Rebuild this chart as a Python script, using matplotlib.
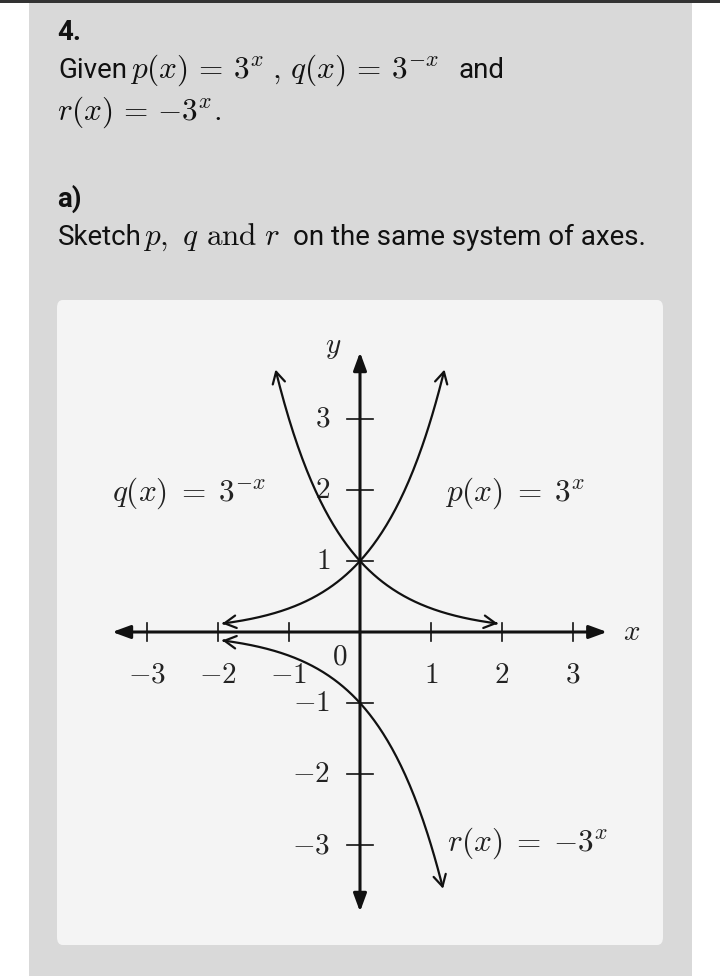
import numpy as np
import matplotlib
matplotlib.use("Agg")
import matplotlib.pyplot as plt
from matplotlib.patches import FancyBboxPatch, Rectangle, FancyArrowPatch
from matplotlib.path import Path

plt.rcParams['font.family'] = ['Roboto', 'DejaVu Sans']
plt.rcParams['mathtext.fontset'] = 'cm'

# ---- data ----
x_ticks = [-3, -2, -1, 1, 2, 3]
x_tick_labels = ['$-3$', '$-2$', '$-1$', '$1$', '$2$', '$3$']
y_ticks = [3, 2, 1, -1, -2, -3]
y_tick_labels = ['$3$', '$2$', '$1$', '$-1$', '$-2$', '$-3$']
p_range = [-1.94, 1.19]   # p(x) = 3^x
q_range = [-1.19, 1.94]   # q(x) = 3^-x
r_range = [-1.94, 1.17]   # r(x) = -3^x
x_axis_range = [-3.49, 3.48]
y_axis_range = [-3.94, 3.94]

W, H = 720, 976
fig = plt.figure(figsize=(W / 100, H / 100), dpi=100)
fig.patch.set_facecolor('white')

def fx(px):
    return px / W

def fy(py):
    return 1 - py / H

# gray panel
fig.patches.append(Rectangle((fx(29), 0), fx(692) - fx(29), fy(3), transform=fig.transFigure,
                             facecolor='#d9d9d9', edgecolor='none', zorder=-3))
# top dark line
fig.patches.append(Rectangle((0, fy(3)), 1, fy(0) - fy(3), transform=fig.transFigure,
                             facecolor='#333333', edgecolor='none', zorder=-3))
# card
fig.patches.append(FancyBboxPatch((fx(57), fy(945)), fx(663) - fx(57), fy(300) - fy(945),
                                  boxstyle='round,pad=0,rounding_size=0.008',
                                  transform=fig.transFigure, facecolor='#f4f4f4',
                                  edgecolor='none', zorder=-2))

tc = '#111111'
tfs = 20
mfs = 22.5

def seg(px, py, s, size=tfs, weight='normal'):
    fig.text(fx(px), fy(py), s, fontsize=size, fontweight=weight, color=tc,
             ha='left', va='baseline')

seg(57, 40, '4.', weight='bold')
seg(58, 78, 'Given')
seg(130, 78, r'$p(x)\,=\,3^x$', mfs)
seg(272, 78, r'$,\,q(x)\,=\,3^{-x}$', mfs)
seg(458, 78, 'and')
seg(57, 120, r'$r(x)\,=\,{-}3^x.$', mfs)
seg(57, 207, 'a)', weight='bold')
seg(58, 245, 'Sketch')
seg(143, 245, r'$p,$', mfs)
seg(182, 245, r'$q$', mfs)
seg(206, 245, r'$\mathrm{and}$', mfs)
seg(264, 245, r'$r$', mfs)
seg(293, 245, 'on the same system of axes.')

# axes mapped: origin at pixel (360, 632), 71 px per unit
u = 71.0
ox, oy = 360, 632
left, right, top, bottom = 57, 663, 300, 945
ax = fig.add_axes([fx(left), fy(bottom), fx(right) - fx(left), fy(top) - fy(bottom)])
ax.set_xlim((left - ox) / u, (right - ox) / u)
ax.set_ylim((oy - bottom) / u, (oy - top) / u)
ax.axis('off')
ax.patch.set_alpha(0)

lc = '#111111'
ast = '<|-|>,head_length=0.6,head_width=0.22'
ax.add_patch(FancyArrowPatch((x_axis_range[0], 0), (x_axis_range[1], 0), arrowstyle=ast,
                             mutation_scale=18, lw=2.2, color=lc, shrinkA=0, shrinkB=0, zorder=3))
ax.add_patch(FancyArrowPatch((0, y_axis_range[0]), (0, y_axis_range[1]), arrowstyle=ast,
                             mutation_scale=18, lw=2.2, color=lc, shrinkA=0, shrinkB=0, zorder=3))

# ticks
for t in x_ticks:
    ax.plot([t, t], [-0.13, 0.13], color=lc, lw=1.2, zorder=3)
for t in y_ticks:
    ax.plot([-0.18, 0.18], [t, t], color=lc, lw=1.2, zorder=3)

fs = 21
lfs = 22.5
gc = '#222222'
for t, lab in zip(x_ticks, x_tick_labels):
    ax.text(t, -0.6, lab, fontsize=fs, ha='center', va='center', color=gc, zorder=4)
for t, lab in zip(y_ticks, y_tick_labels):
    ax.text(-0.42, t, lab, fontsize=fs, ha='right', va='center', color=gc, zorder=4)
ax.text(-0.28, -0.35, '$0$', fontsize=fs, ha='center', va='center', color=gc)
ax.text(3.83, 0.0, '$x$', fontsize=fs, ha='center', va='center', color=gc)
ax.text(-0.38, 4.02, '$y$', fontsize=fs, ha='center', va='center', color=gc)

def curve(xr, f):
    xs = np.linspace(xr[0], xr[1], 200)
    ys = f(xs)
    path = Path(np.column_stack([xs, ys]))
    ax.add_patch(FancyArrowPatch(path=path, arrowstyle='<->,head_length=0.55,head_width=0.3',
                                 mutation_scale=15, lw=1.6, color=lc, zorder=5))

curve(p_range, lambda x: 3.0 ** x)
curve(q_range, lambda x: 3.0 ** (-x))
curve(r_range, lambda x: -(3.0 ** x))

ax.text(-3.49, 1.96, r'$q(x)\;=\;3^{-x}$', fontsize=lfs, ha='left', va='center', color=gc)
ax.text(1.2, 1.96, r'$p(x)\;=\;3^{x}$', fontsize=lfs, ha='left', va='center', color=gc)
ax.text(1.225, -2.97, r'$r(x)\;=\;{-}3^{x}$', fontsize=lfs, ha='left', va='center', color=gc)

fig.savefig('out.png', dpi=100)
